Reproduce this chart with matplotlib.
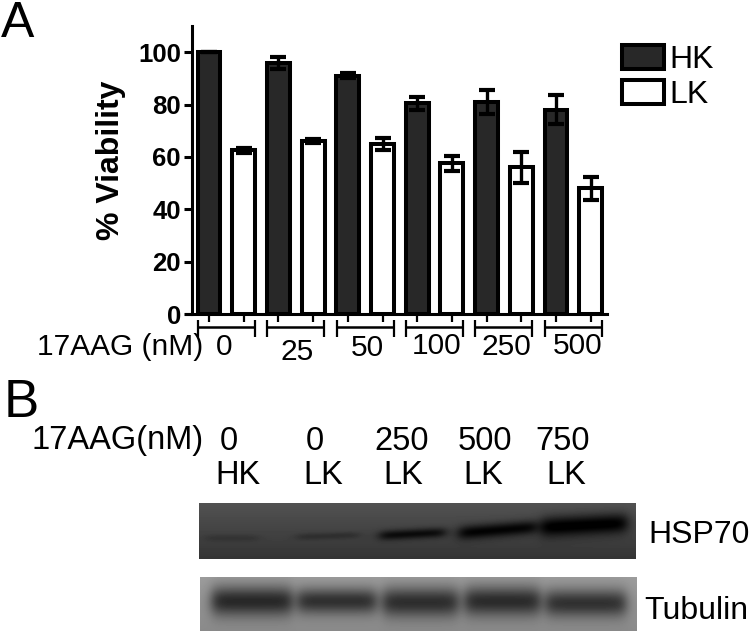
import numpy as np
import matplotlib
matplotlib.use("Agg")
import matplotlib.pyplot as plt
from matplotlib.patches import Patch

plt.rcParams['font.family'] = ['Liberation Sans', 'DejaVu Sans']

# ---- chart values ----
doses = ['0', '25', '50', '100', '250', '500']
hk_values = [100, 96, 91, 80.5, 81, 78]
hk_errors = [0, 2.3, 1, 2.5, 4.5, 5.5]
lk_values = [62.5, 66, 65, 57.5, 56, 48]
lk_errors = [1, 0.7, 2.3, 2.7, 6, 4.5]
y_ticks = [0, 20, 40, 60, 80, 100]

# ---- blot lanes: (x left, x right, y centre, half-thickness, darkness, tilt) in px ----
hsp70_bands = [(206, 258, 538, 3.5, 12, 0), (297, 359, 536, 3.5, 18, -0.03),
               (380, 445, 534, 5, 55, -0.05), (459, 536, 530, 7, 65, -0.08),
               (541, 627, 525, 10, 75, -0.05)]
tubulin_bands = [(212, 292, 601, 15, 108, 0), (298, 376, 601, 13, 100, 0),
                 (383, 458, 602, 15, 102, 0), (465, 540, 601, 15, 105, 0),
                 (546, 626, 603, 14, 98, 0)]
blot_lanes = [('0', 'HK', 229, 238), ('0', 'LK', 315, 323), ('250', 'LK', 402, 403),
              ('500', 'LK', 485, 483), ('750', 'LK', 563, 566)]

W, H = 750, 632
fig = plt.figure(figsize=(W / 100, H / 100), dpi=100)
fig.patch.set_facecolor('white')

ov = fig.add_axes([0, 0, 1, 1])
ov.set_xlim(0, W)
ov.set_ylim(H, 0)
ov.axis('off')

ax = fig.add_axes([192 / W, 1 - 314 / H, (607 - 192) / W, (314 - 26) / H])
ax.patch.set_alpha(0)
step = 34.7
ax.set_xlim((192 - 209) / step, (607 - 209) / step)
ax.set_ylim(0, 110)

x_hk = np.arange(len(doses)) * 2
x_lk = x_hk + 1
bw = 0.66
lw = 2.9
ekw = dict(ecolor='black', elinewidth=2.4, capsize=5.5, capthick=3)
ax.bar(x_hk, hk_values, width=bw, color='#282828', edgecolor='black', linewidth=lw,
       yerr=hk_errors, error_kw=ekw, label='HK')
ax.bar(x_lk, lk_values, width=bw, color='white', edgecolor='black', linewidth=lw,
       yerr=lk_errors, error_kw=ekw, label='LK')

for s in ['top', 'right']:
    ax.spines[s].set_visible(False)
ax.spines['left'].set_linewidth(2.2)
ax.spines['bottom'].set_linewidth(2.2)
ax.spines['bottom'].set_bounds((186 - 209) / step, (607 - 209) / step)
ax.spines['bottom'].set_position(('data', 0))
ax.set_yticks(y_ticks)
ax.set_yticklabels([str(v) for v in y_ticks], fontsize=18.5, fontweight='bold')
ax.tick_params(axis='y', length=6, width=2.2, pad=2)
ax.set_xticks(np.concatenate([x_hk, x_lk]))
ax.set_xticklabels([])
ax.tick_params(axis='x', length=5.5, width=1.6)
ov.text(111, 160, '% Viability', rotation=90, ha='center', va='center',
        fontsize=23, fontweight='bold')

label_px = [224, 297, 367, 437, 506, 578]
label_py = [347, 352, 348, 346, 347, 346]
for i, d in enumerate(doses):
    x0, x1 = x_hk[i] - 0.32, x_lk[i] + 0.32
    px0 = 209 + x0 * step
    px1 = 209 + x1 * step
    ov.plot([px0, px1], [327, 327], color='black', lw=1.8, solid_capstyle='butt')
    for p in (px0, px1):
        ov.plot([p, p], [320, 337], color='black', lw=1.6, solid_capstyle='butt')
    ov.text(label_px[i], label_py[i], d, ha='center', va='center', fontsize=21.5)

ov.text(37, 347, '17AAG (nM)', ha='left', va='center', fontsize=21.5)

handles = [Patch(facecolor='#282828', edgecolor='black', linewidth=lw, label='HK'),
           Patch(facecolor='white', edgecolor='black', linewidth=lw, label='LK')]
fig.legend(handles=handles, loc='upper left', bbox_to_anchor=(622 / W, 1 - 45 / H),
           frameon=False, fontsize=23, handlelength=1.31, handleheight=0.78,
           labelspacing=0.16, handletextpad=0.18, borderpad=0, borderaxespad=0)

ov.text(1, 24, 'A', ha='left', va='center', fontsize=36)
ov.text(4, 403, 'B', ha='left', va='center', fontsize=38)

ov.text(32, 440, '17AAG(nM)', ha='left', va='center', fontsize=23.5)
for top, bottom, x_top, x_bot in blot_lanes:
    ov.text(x_top, 441, top, ha='center', va='center', fontsize=23.5)
    ov.text(x_bot, 476, bottom, ha='center', va='center', fontsize=23.5)
ov.text(648, 535, 'HSP70', ha='left', va='center', fontsize=23)
ov.text(644, 611, 'Tubulin', ha='left', va='center', fontsize=23)


def blot(x0, x1, y0, y1, base, base_drop, bands):
    xs = np.arange(x0, x1) + 0.5
    ys = np.arange(y0, y1) + 0.5
    X, Y = np.meshgrid(xs, ys)
    img = base - base_drop * (Y - y0) / (y1 - y0)
    for bx0, bx1, cy, hw, dark, tilt in bands:
        env = 0.5 * (np.tanh((X - bx0) / 7) - np.tanh((X - bx1) / 7))
        yc = cy + tilt * (X - 0.5 * (bx0 + bx1))
        img = img - dark * env * np.exp(-((Y - yc) / hw) ** 2)
    ov.imshow(np.clip(img, 0, 255), extent=(x0, x1, y1, y0), cmap='gray',
              vmin=0, vmax=255, aspect='auto', interpolation='bilinear', zorder=2)


blot(199, 636, 503, 559, 82, 30, hsp70_bands)
blot(200, 637, 577, 631, 156, 18, tubulin_bands)
ov.set_xlim(0, W)
ov.set_ylim(H, 0)

fig.savefig('out.png', dpi=100)
